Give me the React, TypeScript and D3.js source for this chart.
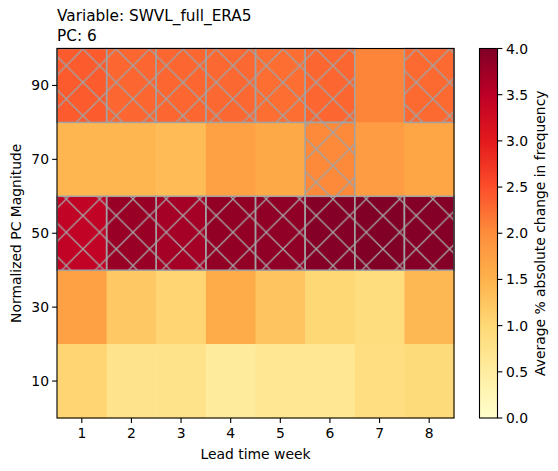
import React from 'react';
import * as d3 from 'd3';

// Lead time weeks (columns) and PC magnitude bins (rows, top to bottom)
const weeks = [1, 2, 3, 4, 5, 6, 7, 8];
const magnitudes = [90, 70, 50, 30, 10];

// Average % absolute change in frequency, one array per magnitude row
const row90 = [2.4, 2.31, 2.31, 2.29, 2.25, 2.3, 2.06, 2.28];
const row70 = [1.45, 1.45, 1.38, 1.75, 1.62, 2.02, 1.8, 1.68];
const row50 = [3.45, 3.8, 3.7, 3.85, 3.87, 3.97, 4.0, 3.97];
const row30 = [1.74, 1.22, 1.05, 1.6, 1.27, 1.01, 0.9, 1.42];
const row10 = [1.05, 0.74, 0.76, 0.55, 0.66, 0.66, 0.88, 0.95];
const values = [row90, row70, row50, row30, row10];

// significance mask (hatched cells)
const sig90 = [1, 1, 1, 1, 1, 1, 0, 1];
const sig70 = [0, 0, 0, 0, 0, 1, 0, 0];
const sig50 = [1, 1, 1, 1, 1, 1, 1, 1];
const sig30 = [0, 0, 0, 0, 0, 0, 0, 0];
const sig10 = [0, 0, 0, 0, 0, 0, 0, 0];
const significant = [sig90, sig70, sig50, sig30, sig10];

const colorTicks = [0, 0.5, 1, 1.5, 2, 2.5, 3, 3.5, 4];
// YlOrRd anchors
const ylOrRd = ['#ffffcc', '#ffeda0', '#fed976', '#feb24c', '#fd8d3c', '#fc4e2a', '#e31a1c', '#bd0026', '#800026'];

const font = '"DejaVu Sans", sans-serif';
const fs = 13.9;
const titleFs = 15.3;

const App: React.FC = () => {
  const width = 558;
  const height = 471;
  const plot = { left: 57, right: 454, top: 48.5, bottom: 418 };
  const cbar = { left: 479.5, right: 497.5 };

  const x = d3.scaleBand<number>().domain(weeks).range([plot.left, plot.right]).padding(0);
  const y = d3.scaleBand<number>().domain(magnitudes).range([plot.top, plot.bottom]).padding(0);

  const color = d3.scaleLinear<string>()
    .domain(d3.range(ylOrRd.length).map(i => (i * 4) / (ylOrRd.length - 1)))
    .range(ylOrRd)
    .interpolate(d3.interpolateRgb)
    .clamp(true);

  const cy = d3.scaleLinear().domain([0, 4]).range([plot.bottom, plot.top]);

  const hatch = 33.333;
  const hatchColor = '#a2a2a2';

  return (
    <svg
      width={width}
      height={height}
      style={{ position: 'absolute', left: 0, top: 0 }}
      fontFamily={font}
    >
      <defs>
        <pattern id="xhatch" patternUnits="userSpaceOnUse" x={-0.4} y={-1} width={hatch} height={hatch}>
          {[-1, 0, 1].map(k => (
            <g key={k}>
              <line x1={k * hatch} y1={0} x2={k * hatch + hatch} y2={hatch} stroke={hatchColor} strokeWidth={1.3} />
              <line x1={k * hatch} y1={hatch} x2={k * hatch + hatch} y2={0} stroke={hatchColor} strokeWidth={1.3} />
            </g>
          ))}
        </pattern>
        <linearGradient id="cbar" x1="0" y1="1" x2="0" y2="0">
          {ylOrRd.map((c, i) => (
            <stop key={i} offset={i / (ylOrRd.length - 1)} stopColor={c} />
          ))}
        </linearGradient>
      </defs>

      {/* heatmap cells */}
      {magnitudes.map((m, r) =>
        weeks.map((w, c) => (
          <rect
            key={`c-${m}-${w}`}
            x={x(w)!}
            y={y(m)!}
            width={x.bandwidth() + 0.5}
            height={y.bandwidth() + 0.5}
            fill={color(values[r][c])}
          />
        ))
      )}

      {/* hatched significant cells */}
      {magnitudes.map((m, r) =>
        weeks.map((w, c) =>
          significant[r][c] ? (
            <rect
              key={`h-${m}-${w}`}
              x={x(w)!}
              y={y(m)!}
              width={x.bandwidth()}
              height={y.bandwidth()}
              fill="url(#xhatch)"
              stroke={hatchColor}
              strokeWidth={1.5}
            />
          ) : null
        )
      )}

      {/* axes frame */}
      <rect
        x={plot.left}
        y={plot.top}
        width={plot.right - plot.left}
        height={plot.bottom - plot.top}
        fill="none"
        stroke="#000"
        strokeWidth={1.1}
      />

      {/* x axis */}
      {weeks.map(w => {
        const cx = x(w)! + x.bandwidth() / 2;
        return (
          <g key={`xt-${w}`}>
            <line x1={cx} x2={cx} y1={plot.bottom} y2={plot.bottom + 4.9} stroke="#000" strokeWidth={1.1} />
            <text x={cx} y={438} textAnchor="middle" fontSize={fs} fill="#000">
              {w}
            </text>
          </g>
        );
      })}
      <text x={(plot.left + plot.right) / 2} y={459} textAnchor="middle" fontSize={fs} fill="#000">
        Lead time week
      </text>

      {/* y axis */}
      {magnitudes.map(m => {
        const ty = y(m)! + y.bandwidth() / 2;
        return (
          <g key={`yt-${m}`}>
            <line x1={plot.left - 4.9} x2={plot.left} y1={ty} y2={ty} stroke="#000" strokeWidth={1.1} />
            <text x={plot.left - 8} y={ty} dy="0.36em" textAnchor="end" fontSize={fs} fill="#000">
              {m}
            </text>
          </g>
        );
      })}
      <text
        transform={`translate(21, ${(plot.top + plot.bottom) / 2}) rotate(-90)`}
        textAnchor="middle"
        fontSize={fs}
        fill="#000"
      >
        Normalized PC Magnitude
      </text>

      {/* title */}
      <text x={plot.left} y={21} fontSize={titleFs} fill="#000">Variable: SWVL_full_ERA5</text>
      <text x={plot.left} y={41} fontSize={titleFs} fill="#000">PC: 6</text>

      {/* colorbar */}
      <rect
        x={cbar.left}
        y={plot.top}
        width={cbar.right - cbar.left}
        height={plot.bottom - plot.top}
        fill="url(#cbar)"
        stroke="#000"
        strokeWidth={1.1}
      />
      {colorTicks.map(t => (
        <g key={`ct-${t}`}>
          <line x1={cbar.right} x2={cbar.right + 4.9} y1={cy(t)} y2={cy(t)} stroke="#000" strokeWidth={1.1} />
          <text x={cbar.right + 8.5} y={cy(t)} dy="0.36em" fontSize={fs} fill="#000">
            {t.toFixed(1)}
          </text>
        </g>
      ))}
      <text
        transform={`translate(545, ${(plot.top + plot.bottom) / 2}) rotate(-90)`}
        textAnchor="middle"
        fontSize={fs}
        fill="#000"
      >
        Average % absolute change in frequency
      </text>
    </svg>
  );
};

export default App;
